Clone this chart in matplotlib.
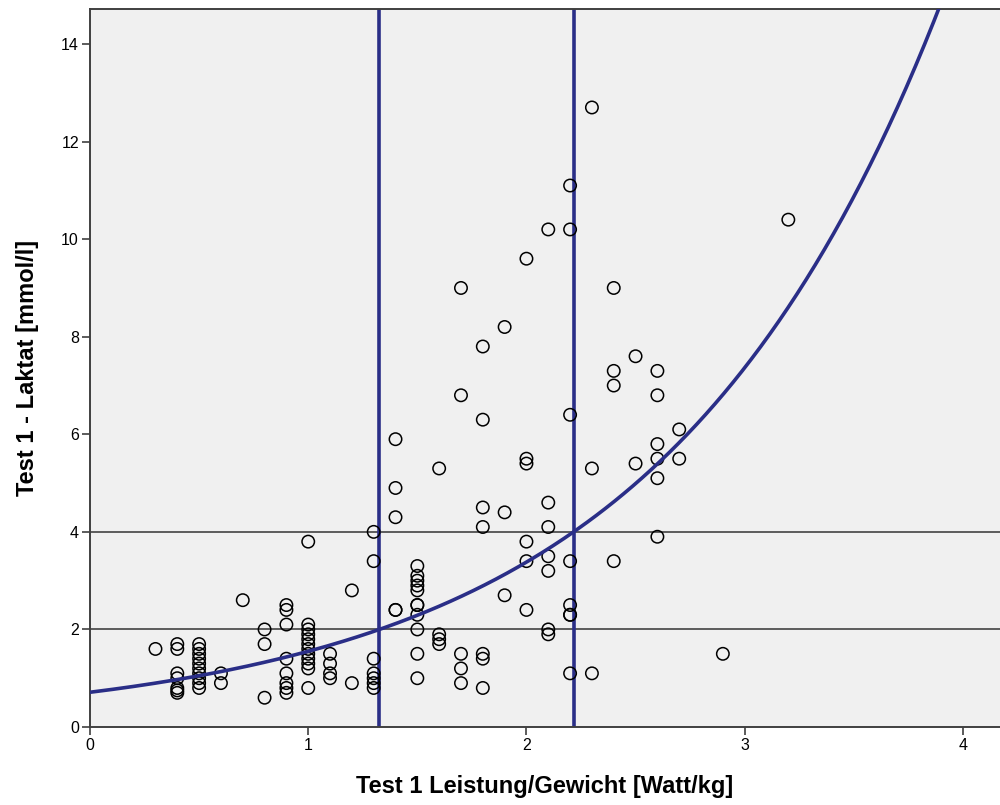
import numpy as np
import matplotlib.pyplot as plt

plt.rcParams['font.family'] = ['Liberation Sans', 'DejaVu Sans']

# Leistung/Gewicht [Watt/kg] and Laktat [mmol/l], grouped by power step
power = [
    0.3,
    0.4, 0.4, 0.4, 0.4, 0.4, 0.4, 0.4,
    0.5, 0.5, 0.5, 0.5, 0.5, 0.5, 0.5, 0.5, 0.5, 0.5,
    0.6, 0.6,
    0.7,
    0.8, 0.8, 0.8,
    0.9, 0.9, 0.9, 0.9, 0.9, 0.9, 0.9, 0.9,
    1.0, 1.0, 1.0, 1.0, 1.0, 1.0, 1.0, 1.0, 1.0, 1.0, 1.0, 1.0,
    1.1, 1.1, 1.1, 1.1,
    1.2, 1.2,
    1.3, 1.3, 1.3, 1.3, 1.3, 1.3, 1.3,
    1.4, 1.4, 1.4, 1.4, 1.4,
    1.5, 1.5, 1.5, 1.5, 1.5, 1.5, 1.5, 1.5, 1.5, 1.5, 1.5,
    1.6, 1.6, 1.6, 1.6,
    1.7, 1.7, 1.7, 1.7, 1.7,
    1.8, 1.8, 1.8, 1.8, 1.8, 1.8, 1.8,
    1.9, 1.9, 1.9,
    2.0, 2.0, 2.0, 2.0, 2.0, 2.0,
    2.1, 2.1, 2.1, 2.1, 2.1, 2.1, 2.1,
    2.2, 2.2, 2.2, 2.2, 2.2, 2.2, 2.2, 2.2,
    2.3, 2.3, 2.3,
    2.4, 2.4, 2.4, 2.4,
    2.5, 2.5,
    2.6, 2.6, 2.6, 2.6, 2.6, 2.6,
    2.7, 2.7,
    2.9,
    3.2,
]
lactate = [
    1.6,
    1.7, 1.6, 1.1, 1.0, 0.8, 0.75, 0.7,
    1.7, 1.6, 1.5, 1.4, 1.3, 1.2, 1.1, 1.0, 0.9, 0.8,
    1.1, 0.9,
    2.6,
    2.0, 1.7, 0.6,
    2.5, 2.4, 2.1, 1.4, 1.1, 0.9, 0.8, 0.7,
    3.8, 2.1, 2.0, 1.9, 1.8, 1.7, 1.6, 1.5, 1.4, 1.3, 1.2, 0.8,
    1.5, 1.3, 1.1, 1.0,
    2.8, 0.9,
    4.0, 3.4, 1.4, 1.1, 1.0, 0.9, 0.8,
    5.9, 4.9, 4.3, 2.4, 2.4,
    3.3, 3.1, 3.0, 2.9, 2.8, 2.5, 2.5, 2.3, 2.0, 1.5, 1.0,
    5.3, 1.9, 1.8, 1.7,
    9.0, 6.8, 1.5, 1.2, 0.9,
    7.8, 6.3, 4.5, 4.1, 1.5, 1.4, 0.8,
    8.2, 4.4, 2.7,
    9.6, 5.5, 5.4, 3.8, 3.4, 2.4,
    10.2, 4.6, 4.1, 3.5, 3.2, 2.0, 1.9,
    11.1, 10.2, 6.4, 3.4, 2.5, 2.3, 2.3, 1.1,
    12.7, 5.3, 1.1,
    9.0, 7.3, 7.0, 3.4,
    7.6, 5.4,
    7.3, 6.8, 5.8, 5.5, 5.1, 3.9,
    6.1, 5.5,
    1.5,
    10.4,
]

# exponential fit  lactate = a * exp(b * power)
fit_a = 0.712
fit_b = 0.7788
thresholds = [2, 4]

x_max = 4.17
y_max = 14.72
line_blue = '#2a2e87'

fig = plt.figure(figsize=(10, 8.05), dpi=100)
ax = fig.add_axes([0.09, 0.0969, 0.91, 0.892])
ax.set_facecolor('#f0f0f0')

for level in thresholds:
    ax.axhline(level, color='#505050', lw=1.3, zorder=1)
    ax.axvline(np.log(level / fit_a) / fit_b, color=line_blue, lw=2.6, zorder=2)

ax.scatter(power, lactate, s=80, facecolors='none', edgecolors='black',
           linewidths=1.1, zorder=3)

xs = np.linspace(0, x_max, 400)
ax.plot(xs, fit_a * np.exp(fit_b * xs), color=line_blue, lw=2.6, zorder=4)

ax.set_xlim(0, x_max)
ax.set_ylim(0, y_max)
ax.set_xticks([0, 1, 2, 3, 4])
ax.set_yticks(range(0, 15, 2))

for side in ['left', 'bottom', 'top']:
    ax.spines[side].set_color('#404040')
    ax.spines[side].set_linewidth(1.4)
ax.spines['right'].set_visible(False)

ax.tick_params(direction='out', length=6, width=1.2, color='#404040',
               labelsize=11.5, pad=2)

ax.set_xlabel('Test 1 Leistung/Gewicht [Watt/kg]', fontsize=17, fontweight='bold',
              labelpad=16)
ax.set_ylabel('Test 1 - Laktat [mmol/l]', fontsize=17, fontweight='bold',
              labelpad=16)

fig.savefig('out.png', dpi=100)
